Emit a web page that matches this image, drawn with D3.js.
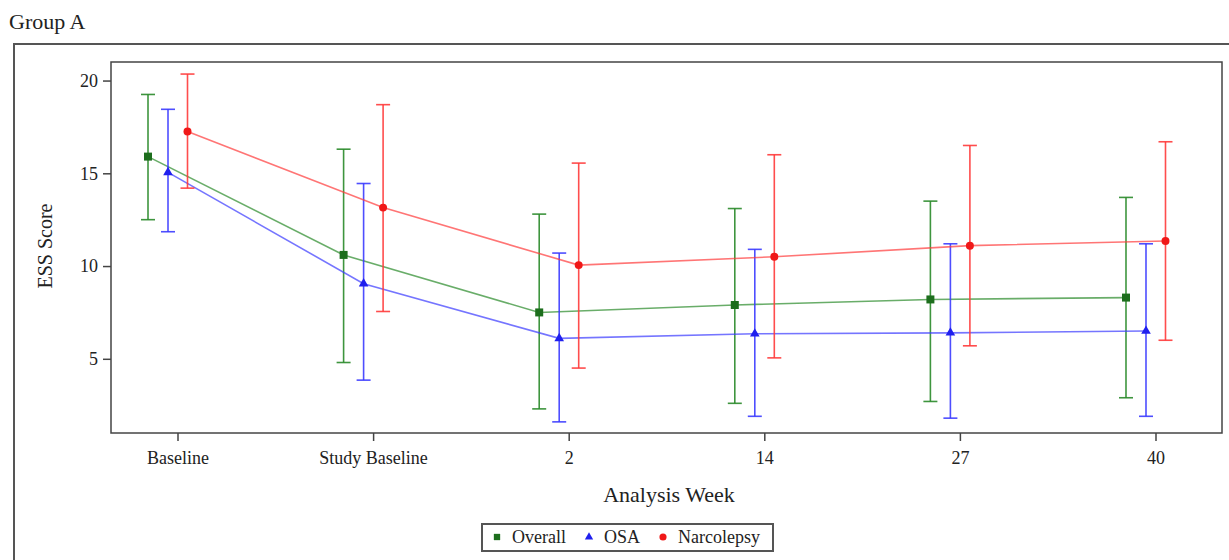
<!DOCTYPE html>
<html>
<head>
<meta charset="utf-8">
<script src="https://cdn.jsdelivr.net/npm/d3@7"></script>
<style>
  body { margin: 0; background: #fff; }
  svg text { font-family: "Liberation Serif", "DejaVu Serif", serif; fill: #222; }
</style>
</head>
<body>
<svg width="1229" height="560"></svg>
<script>
const svg = d3.select("svg");

// data
const weeks = ["Baseline", "Study Baseline", "2", "14", "27", "40"];
const groups = ["Overall", "OSA", "Narcolepsy"];
const overallMean = [15.9, 10.6, 7.5, 7.9, 8.2, 8.3];
const overallLow  = [12.5, 4.8, 2.3, 2.6, 2.7, 2.9];
const overallHigh = [19.25, 16.3, 12.8, 13.1, 13.5, 13.7];
const osaMean = [15.05, 9.05, 6.1, 6.35, 6.4, 6.5];
const osaLow  = [11.85, 3.85, 1.6, 1.9, 1.8, 1.9];
const osaHigh = [18.45, 14.45, 10.7, 10.9, 11.2, 11.2];
const narcMean = [17.25, 13.15, 10.05, 10.5, 11.1, 11.35];
const narcLow  = [14.2, 7.55, 4.5, 5.05, 5.7, 6.0];
const narcHigh = [20.35, 18.7, 15.55, 16.0, 16.5, 16.7];
const yTicks = [5, 10, 15, 20];

const series = [
  { name: groups[0], mean: overallMean, low: overallLow, high: overallHigh, color: "#2a8a2a", mark: "#1d6e1d", shape: "square", dx: -29.5 },
  { name: groups[1], mean: osaMean, low: osaLow, high: osaHigh, color: "#3b3bff", mark: "#2020ee", shape: "triangle", dx: -9.5 },
  { name: groups[2], mean: narcMean, low: narcLow, high: narcHigh, color: "#ff3a3a", mark: "#f01818", shape: "circle", dx: 10 }
];

const pLeft = 111, pRight = 1222, pTop = 62, pBottom = 433;

const x = d3.scalePoint().domain(weeks).range([pLeft, pRight]).padding(0.34);
const y = d3.scaleLinear().domain([1, 21]).range([pBottom, pTop]);

// title + outer frame
svg.append("text").attr("x", 9).attr("y", 29)
  .style("font-size", "22px").text("Group A");

svg.append("rect")
  .attr("x", 14).attr("y", 44).attr("width", 1240).attr("height", 560)
  .attr("fill", "none").attr("stroke", "#555").attr("stroke-width", 2);

// axes
const yAxis = svg.append("g")
  .attr("transform", "translate(" + pLeft + ",0)")
  .call(d3.axisLeft(y).tickValues(yTicks).tickSize(8).tickPadding(5));
const xAxis = svg.append("g")
  .attr("transform", "translate(0," + pBottom + ")")
  .call(d3.axisBottom(x).tickSize(8).tickPadding(10));

[yAxis, xAxis].forEach(g => {
  g.select(".domain").remove();
  g.selectAll("line").attr("stroke", "#444").attr("stroke-width", 1.5);
  g.selectAll("text").style("font-size", "18px").attr("fill", "#222")
    .style("font-family", "'Liberation Serif', serif");
});

svg.append("rect")
  .attr("x", pLeft).attr("y", pTop).attr("width", pRight - pLeft).attr("height", pBottom - pTop)
  .attr("fill", "none").attr("stroke", "#444").attr("stroke-width", 1.5);

svg.append("text")
  .attr("x", 669).attr("y", 502)
  .attr("text-anchor", "middle").style("font-size", "22px").text("Analysis Week");

svg.append("text")
  .attr("transform", "translate(52,246) rotate(-90)")
  .attr("text-anchor", "middle").style("font-size", "20px").text("ESS Score");

// series
const line = d3.line();
const symbols = { square: d3.symbolSquare, triangle: d3.symbolTriangle, circle: d3.symbolCircle };
const sizes = { square: 64, triangle: 40, circle: 50 };

series.forEach(s => {
  const g = svg.append("g");
  const px = weeks.map(w => x(w) + s.dx);

  g.append("path")
    .attr("d", line(px.map((p, i) => [p, y(s.mean[i])])))
    .attr("fill", "none").attr("stroke", s.color)
    .attr("stroke-width", 1.6).attr("opacity", 0.7);

  weeks.forEach((w, i) => {
    const cx = px[i];
    g.append("line")
      .attr("x1", cx).attr("x2", cx)
      .attr("y1", y(s.low[i])).attr("y2", y(s.high[i]))
      .attr("stroke", s.color).attr("stroke-width", 1.6).attr("opacity", 0.9);
    [s.low[i], s.high[i]].forEach(v => {
      g.append("line")
        .attr("x1", cx - 7).attr("x2", cx + 7)
        .attr("y1", y(v)).attr("y2", y(v))
        .attr("stroke", s.color).attr("stroke-width", 1.6).attr("opacity", 0.9);
    });
    g.append("path")
      .attr("transform", "translate(" + cx + "," + y(s.mean[i]) + ")")
      .attr("d", d3.symbol(symbols[s.shape], sizes[s.shape])())
      .attr("fill", s.mark);
  });
});

// legend
const leg = svg.append("g");
leg.append("rect")
  .attr("x", 482).attr("y", 524).attr("width", 291).attr("height", 27)
  .attr("fill", "#fff").attr("stroke", "#555").attr("stroke-width", 2);

const legX = [497, 589, 663];
series.forEach((s, i) => {
  leg.append("path")
    .attr("transform", "translate(" + legX[i] + ",537)")
    .attr("d", d3.symbol(symbols[s.shape], s.shape === "triangle" ? 30 : 40)())
    .attr("fill", s.mark);
  leg.append("text")
    .attr("x", legX[i] + 15).attr("y", 543)
    .style("font-size", "18px").text(s.name);
});
</script>
</body>
</html>
